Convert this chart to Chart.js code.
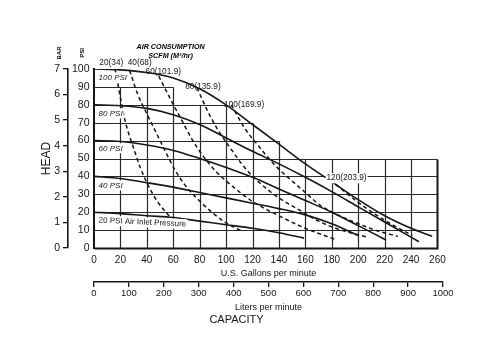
<!DOCTYPE html>
<html>
<head>
<meta charset="utf-8">
<script src="https://cdn.jsdelivr.net/npm/chart.js@4.4.1/dist/chart.umd.min.js"></script>
<style>
  html, body { margin: 0; padding: 0; background: #fff; }
  #wrap { width: 500px; height: 339px; }
</style>
</head>
<body>
<div id="wrap"><canvas id="pump"></canvas></div>
<script>
// Pump performance: discharge head (PSI / BAR) against capacity (US gpm / litres per minute)

// solid curves, one per air inlet pressure: capacity in US gpm, head in PSI
const gpm100 = [0, 20, 40, 60, 80, 100, 120, 140, 160, 180, 200, 220, 240, 256];
const head100 = [100, 99.5, 98, 95, 89, 80, 69, 58, 47, 37, 27, 18, 11, 6.5];
const gpm80 = [0, 20, 40, 60, 80, 100, 120, 140, 160, 180, 200, 220, 246];
const head80 = [80, 79.5, 78, 74.5, 69, 61.5, 54, 47, 39.5, 31.5, 23, 14.5, 3.5];
const gpm60 = [0, 20, 40, 60, 80, 100, 120, 140, 160, 180, 200, 221];
const head60 = [60, 59.5, 57.5, 54.5, 50, 45, 39.5, 33, 26.5, 20, 12.5, 4.5];
const gpm40 = [0, 20, 40, 60, 80, 100, 120, 140, 160, 180, 200];
const head40 = [40, 38.8, 36.5, 34, 31, 28, 25, 22, 18.5, 13.5, 7];
const gpm20 = [0, 20, 40, 60, 80, 100, 120, 140, 159];
const head20 = [20, 19.2, 18, 17, 15, 13, 11, 8.5, 5.5];

// dashed air consumption lines, SCFM (m3/hr)
const scfm20Gpm = [16, 18, 20, 22, 25, 29, 35, 41, 48, 58];
const scfm20Head = [99.6, 92, 84, 76, 67, 58, 45, 35, 26, 17];
const scfm40Gpm = [27, 33, 40, 48, 54, 61, 69, 79, 90, 100, 113];
const scfm40Head = [99.2, 86, 75, 63, 54, 44, 35, 27, 19.5, 14, 9];
const scfm60Gpm = [49, 58, 66, 74, 82, 92, 104, 120, 140, 160, 184];
const scfm60Head = [96, 83, 72, 61, 52, 43, 35, 26, 18, 11, 4.5];
const scfm80Gpm = [78, 85, 93, 103, 114, 126, 140, 156, 170, 183, 207];
const scfm80Head = [89.5, 78, 67, 56, 45, 36, 28, 21, 15, 11, 6];
const scfm100Gpm = [104, 114, 124, 136, 149, 160, 171, 186, 202, 215, 230];
const scfm100Head = [80, 67, 57.5, 47, 38, 31, 24, 18, 13, 9.5, 6.5];
const scfm120Gpm = [183, 200, 220, 241];
const scfm120Head = [35.5, 25.5, 15.5, 7];

// axis ranges and tick labels
const gpmMax = 1000 / 3.785;         // 1000 l/min expressed in gpm
const gpmTicks = [0, 20, 40, 60, 80, 100, 120, 140, 160, 180, 200, 220, 240, 260];
const litreTicks = [0, 100, 200, 300, 400, 500, 600, 700, 800, 900, 1000];
const psiTicks = [0, 10, 20, 30, 40, 50, 60, 70, 80, 90, 100];
const barTicks = [0, 1, 2, 3, 4, 5, 6, 7];

// top of the printed grid for each 20 gpm column
const gridTops = [90, 90, 90, 80, 80, 70, 60, 50, 50, 50, 50, 50, 50];

const FONT = "'Liberation Sans', Arial, Helvetica, sans-serif";
const INK = '#161616';

Chart.defaults.font.family = FONT;
Chart.defaults.color = INK;

const pts = (xs, ys) => xs.map((x, i) => ({ x, y: ys[i] }));
const solid = (label, xs, ys) => ({
  label, data: pts(xs, ys),
  borderColor: INK, borderWidth: 1.6, pointRadius: 0,
  cubicInterpolationMode: 'monotone', fill: false
});
const dashed = (label, xs, ys) => Object.assign(solid(label, xs, ys), {
  borderDash: [4, 3], borderWidth: 1.5
});
const fixedTicks = list => s => { s.ticks = list.map(value => ({ value })); };
const plain = v => String(v);

// text printed on the curves (anchored left-middle, in data units)
const curveNotes = [
  { text: '100 PSI', gpm: 3.5, psi: 95.3, size: 8, italic: true, clear: true },
  { text: '80 PSI', gpm: 3.5, psi: 75.2, size: 8, italic: true, clear: true },
  { text: '60 PSI', gpm: 3.5, psi: 55.7, size: 8, italic: true, clear: true },
  { text: '40 PSI', gpm: 3.5, psi: 35, size: 8, italic: true, clear: true },
  { text: '20 PSI Air Inlet Pressure', gpm: 3.5, psi: 15.5, size: 8, italic: false, clear: true, tilt: 0.045 },
  { text: '20(34)', gpm: 4, psi: 103.5, size: 8.3 },
  { text: '40(68)', gpm: 25.5, psi: 103.5, size: 8.3 },
  { text: '60(101.9)', gpm: 39, psi: 98.6, size: 8.3 },
  { text: '80(135.9)', gpm: 69, psi: 90.3, size: 8.3 },
  { text: '100(169.9)', gpm: 98.5, psi: 80.3, size: 8.3 },
  { text: '120(203.9)', gpm: 176, psi: 39, size: 8.3, clear: true }
];

const stepGrid = {
  id: 'stepGrid',
  beforeDatasetsDraw(chart) {
    const { ctx, scales: { x, y } } = chart;
    const px = v => Math.round(x.getPixelForValue(v)) + 0.5;
    const py = v => Math.round(y.getPixelForValue(v)) + 0.5;
    ctx.save();
    ctx.strokeStyle = '#2a2a2a';
    ctx.lineWidth = 1.2;
    ctx.beginPath();
    gridTops.forEach((top, i) => {
      for (let p = 10; p <= top; p += 10) {
        ctx.moveTo(px(i * 20), py(p));
        ctx.lineTo(px(i * 20 + 20), py(p));
      }
    });
    for (let i = 1; i < gridTops.length; i++) {
      const top = Math.max(gridTops[i - 1], gridTops[i]);
      ctx.moveTo(px(i * 20), py(0));
      ctx.lineTo(px(i * 20), py(top));
    }
    ctx.stroke();
    // base line and right edge of the grid
    ctx.strokeStyle = INK;
    ctx.lineWidth = 2;
    ctx.beginPath();
    ctx.moveTo(px(0), py(0));
    ctx.lineTo(px(260), py(0));
    ctx.lineTo(px(260), py(gridTops[gridTops.length - 1]));
    ctx.stroke();
    ctx.restore();
  }
};

const notes = {
  id: 'notes',
  afterDatasetsDraw(chart) {
    const { ctx, scales: { x, y } } = chart;
    ctx.save();
    ctx.textBaseline = 'middle';
    ctx.textAlign = 'left';
    for (const n of curveNotes) {
      ctx.font = `${n.italic ? 'italic ' : ''}${n.size}px ${FONT}`;
      const w = ctx.measureText(n.text).width;
      ctx.save();
      ctx.translate(x.getPixelForValue(n.gpm), y.getPixelForValue(n.psi));
      if (n.tilt) ctx.rotate(n.tilt);
      if (n.clear) {
        ctx.fillStyle = '#fff';
        ctx.fillRect(-1, -n.size / 2 - 1, w + 2, n.size + 2);
      }
      ctx.fillStyle = INK;
      ctx.fillText(n.text, 0, 0);
      ctx.restore();
    }

    // heading over the air consumption lines
    ctx.textAlign = 'center';
    ctx.font = `italic 600 7.2px ${FONT}`;
    const cx = x.getPixelForValue(58);
    ctx.fillText('AIR CONSUMPTION', cx, 47);
    ctx.fillText('SCFM (M³/hr)', cx, 56.5);

    // unit tags above the two head axes
    ctx.font = `bold 6px ${FONT}`;
    [['BAR', chart.scales.y2.right - 9], ['PSI', chart.scales.y.right - 12]].forEach(([t, tx]) => {
      ctx.save();
      ctx.translate(tx, 53);
      ctx.rotate(-Math.PI / 2);
      ctx.fillText(t, 0, 0);
      ctx.restore();
    });
    ctx.restore();
  }
};

new Chart(document.getElementById('pump'), {
  type: 'line',
  data: {
    datasets: [
      solid('100 PSI', gpm100, head100),
      solid('80 PSI', gpm80, head80),
      solid('60 PSI', gpm60, head60),
      solid('40 PSI', gpm40, head40),
      solid('20 PSI', gpm20, head20),
      dashed('20(34)', scfm20Gpm, scfm20Head),
      dashed('40(68)', scfm40Gpm, scfm40Head),
      dashed('60(101.9)', scfm60Gpm, scfm60Head),
      dashed('80(135.9)', scfm80Gpm, scfm80Head),
      dashed('100(169.9)', scfm100Gpm, scfm100Head),
      dashed('120(203.9)', scfm120Gpm, scfm120Head)
    ]
  },
  options: {
    responsive: true,
    maintainAspectRatio: false,
    animation: false,
    events: [],
    layout: { padding: { top: 69, left: 30, right: 57, bottom: 12.8 } },
    plugins: {
      legend: { display: false },
      tooltip: { enabled: false },
      title: {
        display: true, position: 'bottom', text: 'CAPACITY',
        font: { size: 11, weight: 'normal' }, color: INK, padding: 0
      }
    },
    scales: {
      x: {
        type: 'linear', position: 'bottom', min: 0, max: gpmMax,
        afterBuildTicks: fixedTicks(gpmTicks),
        ticks: { font: { size: 10 }, padding: 6, maxRotation: 0, callback: plain },
        grid: { display: false, drawTicks: false },
        border: { display: false },
        title: { display: true, text: 'U.S. Gallons per minute', font: { size: 9 }, padding: { top: 0, bottom: 3.3 } },
        afterFit: s => { s.height = 34; }
      },
      x2: {
        type: 'linear', position: 'bottom', min: 0, max: 1000,
        afterBuildTicks: fixedTicks(litreTicks),
        ticks: { font: { size: 9.5 }, padding: 1, maxRotation: 0, callback: plain },
        grid: { display: true, drawOnChartArea: false, drawTicks: true, tickLength: 5, color: INK, lineWidth: 1.3 },
        border: { display: true, color: INK, width: 1.6 },
        title: { display: true, text: 'Liters per minute', font: { size: 9 }, padding: { top: 0, bottom: 0.3 } },
        afterFit: s => { s.height = 31; }
      },
      y: {
        type: 'linear', position: 'left', min: 0, max: 100,
        afterBuildTicks: fixedTicks(psiTicks),
        ticks: { font: { size: 10.5 }, padding: 4.5, callback: plain },
        grid: { display: false, drawTicks: false },
        border: { display: true, color: INK, width: 2 },
        afterFit: s => { s.width = 26; }
      },
      y2: {
        type: 'linear', position: 'left', min: 0, max: 7,
        afterBuildTicks: fixedTicks(barTicks),
        ticks: { font: { size: 10.5 }, padding: 3, callback: plain },
        grid: { display: true, drawOnChartArea: false, drawTicks: true, tickLength: 5, color: INK, lineWidth: 1.3 },
        border: { display: true, color: INK, width: 1.6 },
        title: { display: true, text: 'HEAD', font: { size: 12 }, padding: { top: 9.5, bottom: 0 } },
        afterFit: s => { s.width = 38; }
      }
    }
  },
  plugins: [stepGrid, notes]
});
</script>
</body>
</html>
